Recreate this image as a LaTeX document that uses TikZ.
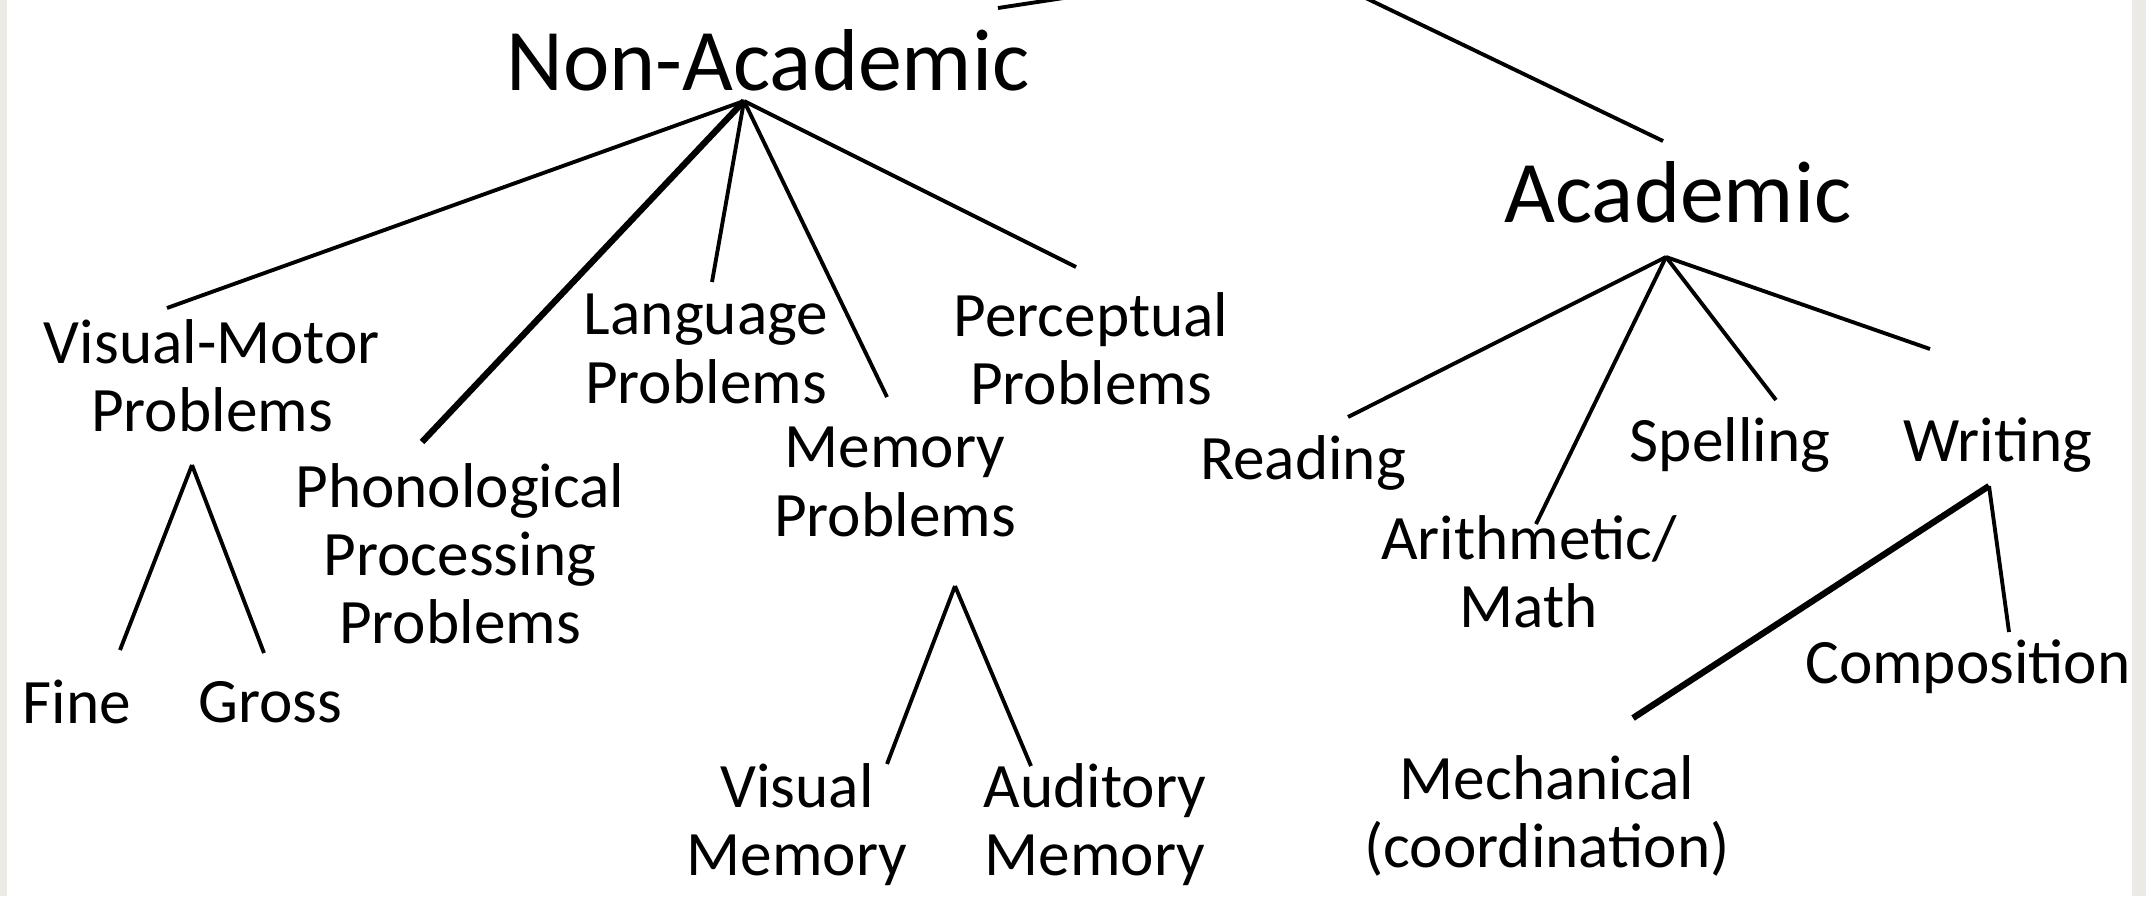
\documentclass[tikz,border=0pt]{standalone}
\usepackage{fontspec}
\setmainfont{Carlito}
\definecolor{paper}{HTML}{ECEAE5}

\begin{document}
\begin{tikzpicture}[
  x=0.1mm, y=-0.1mm,
  topic/.style={font=\fontsize{25}{28}\selectfont,inner sep=0pt},
  area/.style={font=\fontsize{18}{19.4}\selectfont,align=center,inner sep=0pt},
  branch/.style={line width=1.1pt},
  heavy/.style={line width=1.8pt}
]
  % page
  \fill[paper] (0,0) rectangle (2146,896);
  \fill[white] (7,0) rectangle (2132,896);
  \useasboundingbox (0,0) rectangle (2146,896);
  \clip (0,0) rectangle (2146,896);

  \coordinate (root) at (1293,-37);

  % two main groups
  \node[topic] (nonacademic) at (768,60) {Non-Academic};
  \node[topic] (academic) at (1678,192) {Academic};

  % non-academic side
  \node[area] (visualmotor) at (212,376) {Visual-Motor\\Problems};
  \node[area] (phonological) at (460,554) {Phonological\\Processing\\Problems};
  \node[area] (language) at (706,349) {Language\\Problems};
  \node[area] (memory) at (895,482) {Memory\\Problems};
  \node[area] (perceptual) at (1091,349) {Perceptual\\Problems};
  \node[area] (fine) at (77,702) {Fine};
  \node[area] (gross) at (270,702) {Gross};
  \node[area] (visualmem) at (797,825) {Visual\\Memory};
  \node[area] (auditorymem) at (1095,825) {Auditory\\Memory};

  % academic side
  \node[area] (reading) at (1303,463) {Reading};
  \node[area] (arithmetic) at (1529,572) {Arithmetic/\\Math};
  \node[area] (spelling) at (1730,445) {Spelling};
  \node[area] (writing) at (1998,445) {Writing};
  \node[area] (composition) at (1968,667) {Composition};
  \node[area] (mechanical) at (1547,816) {Mechanical\\(coordination)};

  \draw[branch] ([shift={(230,-52)}]nonacademic.center) -- (root);
  \draw[branch] ([shift={(-15,-51)}]academic.center) -- (root);

  \draw[branch] ([shift={(-24,41)}]nonacademic.center) -- ([shift={(-45,-68)}]visualmotor.center);
  \draw[heavy] ([shift={(-24,41)}]nonacademic.center) -- ([shift={(-38,-112)}]phonological.center);
  \draw[branch] ([shift={(-24,41)}]nonacademic.center) -- ([shift={(6,-67)}]language.center);
  \draw[branch] ([shift={(-24,41)}]nonacademic.center) -- ([shift={(-8,-85)}]memory.center);
  \draw[branch] ([shift={(-24,41)}]nonacademic.center) -- ([shift={(-15,-82)}]perceptual.center);

  \draw[branch] ([shift={(-20,89)}]visualmotor.center) -- ([shift={(43,-52)}]fine.center);
  \draw[branch] ([shift={(-20,89)}]visualmotor.center) -- ([shift={(-6,-49)}]gross.center);
  \draw[branch] ([shift={(60,104)}]memory.center) -- ([shift={(90,-61)}]visualmem.center);
  \draw[branch] ([shift={(60,104)}]memory.center) -- ([shift={(-64,-59)}]auditorymem.center);

  \draw[branch] ([shift={(-12,65)}]academic.center) -- ([shift={(45,-46)}]reading.center);
  \draw[branch] ([shift={(-12,65)}]academic.center) -- ([shift={(7,-48)}]arithmetic.center);
  \draw[branch] ([shift={(-12,65)}]academic.center) -- ([shift={(46,-45)}]spelling.center);
  \draw[branch] ([shift={(-12,65)}]academic.center) -- ([shift={(-68,-96)}]writing.center);

  \draw[branch] ([shift={(-9,41)}]writing.center) -- ([shift={(41,-35)}]composition.center);
  \draw[heavy] ([shift={(-9,41)}]writing.center) -- ([shift={(86,-98)}]mechanical.center);
\end{tikzpicture}
\end{document}
